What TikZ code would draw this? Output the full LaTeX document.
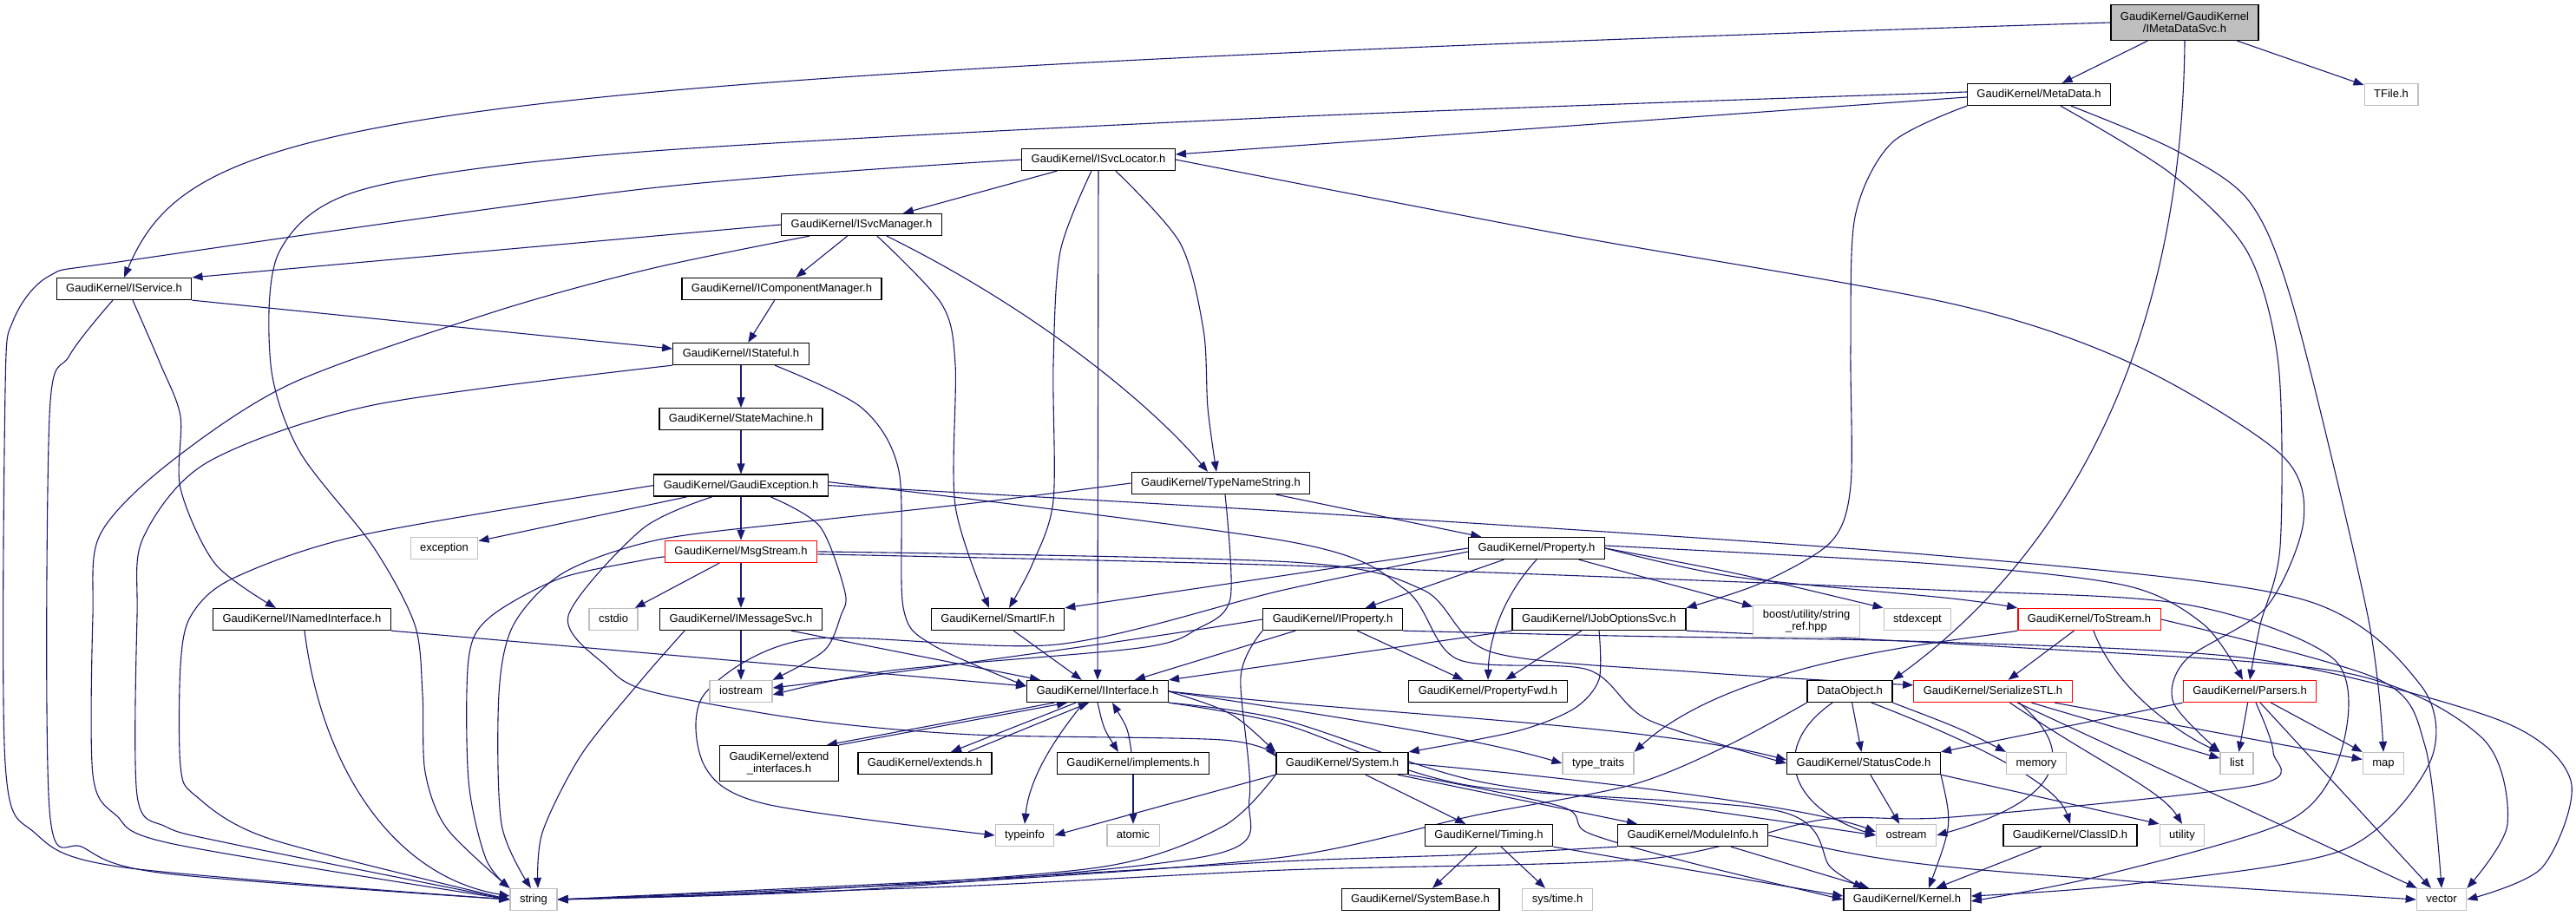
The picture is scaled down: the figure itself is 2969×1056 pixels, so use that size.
\documentclass[tikz,border=0pt]{standalone}
\usepackage{fontspec}
\setmainfont{Liberation Sans}
\usetikzlibrary{arrows.meta,positioning,backgrounds}
\definecolor{incblue}{HTML}{191970}
\definecolor{sysgray}{HTML}{BFBFBF}
\definecolor{cutred}{HTML}{FF0000}

\begin{document}
\begin{tikzpicture}
[x=1pt, y=-1pt, node distance=49pt,
% STYLES
% The header style is used to draw the files' names
header/.style={rectangle, draw=black, line width=1.3pt, fill=white, inner xsep=11pt, inner ysep=3pt, minimum height=25pt, text height=10pt, text depth=3pt, align=center, font=\fontsize{13}{14}\selectfont},
twoline/.style={text height={}, text depth={}, minimum height=41pt},
% system headers get a grey frame, truncated ones a red frame
syshdr/.style={header, draw=sysgray},
cuthdr/.style={header, draw=cutred},
mainhdr/.style={header, fill=sysgray},
% The dep style is used to draw the includes
dep/.style={draw=incblue, line width=1.1pt, -{Triangle[length=12pt, width=9pt]}}]

\useasboundingbox (0,0) rectangle (2969,1056);

% Draw headers
\node [mainhdr, twoline] (meta) at (2518,26) {GaudiKernel/GaudiKernel\\/IMetaDataSvc.h};
\node [header] (metadata) at (2350,109) {GaudiKernel/MetaData.h};
\node [syshdr] (tfile) at (2756,109) {TFile.h};
\node [header] (svcloc) at (1266,184) {GaudiKernel/ISvcLocator.h};
\node [header] (svcmgr) at (993,259) {GaudiKernel/ISvcManager.h};
\node [header] (iservice) at (143,333) {GaudiKernel/IService.h};
\node [header] (compmgr) at (901,333) {GaudiKernel/IComponentManager.h};
\node [header] (istateful) at (854,408) {GaudiKernel/IStateful.h};
\node [header, below=of istateful] (statemach) {GaudiKernel/StateMachine.h};
\node [header, below=50pt of statemach] (gexcept) {GaudiKernel/GaudiException.h};
\node [cuthdr, below=50pt of gexcept] (msgstream) {GaudiKernel/MsgStream.h};
\node [header] (imsgsvc) at (854,714) {GaudiKernel/IMessageSvc.h};
\node [syshdr] (iostream) at (854,797) {iostream};
\node [header] (typename) at (1407,557) {GaudiKernel/TypeNameString.h};
\node [syshdr] (exception) at (512,632) {exception};
\node [syshdr] (cstdio) at (707,714) {cstdio};
\node [header] (named) at (348,714) {GaudiKernel/INamedInterface.h};
\node [header] (smartif) at (1150,714) {GaudiKernel/SmartIF.h};
\node [header] (property) at (1771,632) {GaudiKernel/Property.h};
\node [header] (iproperty) at (1536,714) {GaudiKernel/IProperty.h};
\node [header] (joboptions) at (1843,714) {GaudiKernel/IJobOptionsSvc.h};
\node [syshdr, twoline, minimum height=37pt] (boostref) at (2082,716) {boost/utility/string\\\_ref.hpp};
\node [syshdr] (stdexcept) at (2210,714) {stdexcept};
\node [cuthdr] (tostream) at (2408,714) {GaudiKernel/ToStream.h};
\node [header] (iinterface) at (1265,797) {GaudiKernel/IInterface.h};
\node [header] (propfwd) at (1715,797) {GaudiKernel/PropertyFwd.h};
\node [header] (dataobj) at (2132,797) {DataObject.h};
\node [cuthdr] (serialize) at (2297,797) {GaudiKernel/SerializeSTL.h};
\node [cuthdr] (parsers) at (2593,797) {GaudiKernel/Parsers.h};
\node [header, twoline] (extendif) at (898,880) {GaudiKernel/extend\\\_interfaces.h};
\node [header] (extends) at (1066,880) {GaudiKernel/extends.h};
\node [header] (implements) at (1306,880) {GaudiKernel/implements.h};
\node [header] (system) at (1547,880) {GaudiKernel/System.h};
\node [syshdr] (typetraits) at (1842,880) {type\_traits};
\node [header] (statuscode) at (2148,880) {GaudiKernel/StatusCode.h};
\node [syshdr] (memory) at (2347,880) {memory};
\node [syshdr] (list) at (2578,880) {list};
\node [syshdr] (map) at (2747,880) {map};
\node [syshdr] (typeinfo) at (1181,963) {typeinfo};
\node [syshdr] (atomic) at (1306,963) {atomic};
\node [header] (timing) at (1716,963) {GaudiKernel/Timing.h};
\node [header] (moduleinfo) at (1951,963) {GaudiKernel/ModuleInfo.h};
\node [syshdr] (ostream) at (2197,963) {ostream};
\node [header] (classid) at (2386,963) {GaudiKernel/ClassID.h};
\node [syshdr] (utility) at (2515,963) {utility};
\node [syshdr] (string) at (615,1037) {string};
\node [header] (sysbase) at (1637,1037) {GaudiKernel/SystemBase.h};
\node [syshdr] (systime) at (1795,1037) {sys/time.h};
\node [header] (kernel) at (2198,1037) {GaudiKernel/Kernel.h};
\node [syshdr] (vector) at (2814,1037) {vector};

\begin{scope}[on background layer]
% Draw includes of IMetaDataSvc.h
\draw [dep] (meta.west) .. controls (400,90) and (220,140) .. (iservice.north);
\draw [dep] (meta) -- (metadata);
\draw [dep] (meta) -- (tfile);
\draw [dep] (meta.south) .. controls (2515,400) and (2380,640) .. (dataobj.north east);

% MetaData.h
\draw [dep] ([yshift=-3pt]metadata.west) -- ([yshift=6pt]svcloc.east);
\draw [dep] plot [smooth] coordinates {([yshift=3pt]metadata.west) (1480,135) (740,175) (420,218) (322,290) (312,420) (345,520) (430,630) (478,720) (487,800) (490,890) (515,955) (string.north west)};
\draw [dep] plot [smooth] coordinates {(metadata.south west) (2180,165) (2138,250) (2133,400) (2133,560) (2110,625) (2030,672) (joboptions.north east)};
\draw [dep] plot [smooth] coordinates {([xshift=25pt]metadata.south) (2502,200) (2590,290) (2626,420) (2628,630) (2605,720) (parsers.north)};
\draw [dep] plot [smooth] coordinates {([xshift=37pt]metadata.south) (2507,173) (2593,233) (2645,360) (2729,710) (map.north)};

% ISvcLocator.h
\draw [dep] (svcloc) -- (svcmgr);
\draw [dep] (svcloc) -- (iinterface);
\draw [dep] plot [smooth] coordinates {([xshift=-8pt]svcloc.south) (1222,290) (1214,420) (1214,577) (1190,650) ([xshift=13pt]smartif.north)};
\draw [dep] plot [smooth] coordinates {([xshift=20pt]svcloc.south) (1360,280) (1387,380) (1392,470) ([xshift=-5pt]typename.north)};
\draw [dep] plot [smooth] coordinates {(svcloc.east) (1800,270) (2249,350) (2459,420) (2628,523) (2655,600) (2612,700) (2520,760) (2505,810) (list.north west)};
\draw [dep] plot [smooth] coordinates {(svcloc.west) (749,217) (150,300) (57,318) (15,370) (6,450) (6,880) (40,960) (143,1000) (string.west)};

% ISvcManager.h
\draw [dep] (svcmgr.west) -- (iservice.north east);
\draw [dep] (svcmgr) -- (compmgr);
\draw [dep] plot [smooth] coordinates {([xshift=-60pt]svcmgr.south) (749,310) (568,360) (334,443) (191,537) (115,617) (107,710) (107,893) (134,940) (200,973) (string.west)};
\draw [dep] plot [smooth] coordinates {([xshift=18pt]svcmgr.south) (1085,350) (1101,420) (1101,583) ([xshift=-10pt]smartif.north)};
\draw [dep] ([xshift=29pt]svcmgr.south) .. controls (1200,360) and (1330,470) .. ([xshift=-15pt]typename.north);

% IService.h and IComponentManager.h
\draw [dep] (iservice.south east) -- ([yshift=6pt]istateful.west);
\draw [dep] plot [smooth] coordinates {([xshift=10pt]iservice.south) (185,420) (208,480) (208,563) (248,650) ([xshift=-30pt]named.north)};
\draw [dep] plot [smooth] coordinates {([xshift=-13pt]iservice.south) (80,410) (57,480) (57,933) (96,977) (191,1007) (string.west)};
\draw [dep] (compmgr) -- (istateful);

% IStateful.h down to MsgStream.h
\draw [dep] (istateful) -- (statemach);
\draw [dep] plot [smooth] coordinates {(istateful.south west) (430,467) (239,533) (165,620) (158,710) (158,917) (191,953) (268,973) (string.west)};
\draw [dep] plot [smooth] coordinates {([xshift=39pt]istateful.south) (993,470) (1036,543) (1041,700) (1074,743) ([yshift=6pt]iinterface.west)};
\draw [dep] (statemach) -- (gexcept);
\draw [dep] (gexcept) -- (msgstream);
\draw [dep] (gexcept) -- (exception);
\draw [dep] plot [smooth] coordinates {(gexcept.west) (416,617) (268,667) (220,710) (208,767) (208,883) (225,917) (311,967) (string.west)};
\draw [dep] plot [smooth] coordinates {([xshift=-33pt]gexcept.south) (740,610) (655,710) (698,767) (749,797) (931,830) (1122,847) (1409,853) ([yshift=8pt]system.west)};
\draw [dep] plot [smooth] coordinates {([xshift=34pt]gexcept.south) (945,607) (974,683) (969,710) (950,750) (iostream.north east)};
\draw [dep] plot [smooth] coordinates {([yshift=4pt]gexcept.east) (1489,625) (1620,680) (1680,760) (1830,772) (1900,830) (statuscode.west)};
\draw [dep] plot [smooth] coordinates {(gexcept.east) (1489,590) (2229,640) (2650,690) (2790,790) (2800,880) (2700,980) (2450,1020) ([yshift=4pt]kernel.east)};
\draw [dep] (msgstream) -- (imsgsvc);
\draw [dep] (msgstream) -- (cstdio);
\draw [dep] plot [smooth] coordinates {([yshift=-6pt]msgstream.west) (740,646) (645,667) (564,712) (540,760) (540,900) (560,990) (string.north west)};
\draw [dep] plot [smooth] coordinates {(msgstream.east) (1489,648) (1640,680) (1720,752) (1958,775) ([yshift=-6pt]serialize.north west)};
\draw [dep] plot [smooth] coordinates {([yshift=-3pt]msgstream.east) (1489,652) (2229,680) (2520,697) (2690,760) (2700,860) (2640,945) (2420,1010) ([yshift=-2pt]kernel.east)};

% IMessageSvc.h and INamedInterface.h
\draw [dep] ([xshift=58pt]imsgsvc.south) -- ([xshift=-66pt]iinterface.north);
\draw [dep] (imsgsvc) -- (iostream);
\draw [dep] plot [smooth] coordinates {([xshift=-65pt]imsgsvc.south) (740,783) (670,870) (625,960) ([xshift=5pt]string.north)};
\draw [dep] (named.south east) -- ([yshift=6pt]iinterface.west);
\draw [dep] ([xshift=3pt]named.south) .. controls (370,880) and (450,1010) .. ([yshift=4pt]string.west);

% TypeNameString.h and Property.h
\draw [dep] (typename) -- (property);
\draw [dep] plot [smooth] coordinates {(typename.west) (1122,580) (940,600) (760,622) (650,660) (592,720) (575,800) (578,950) ([xshift=-3pt]string.north)};
\draw [dep] plot [smooth] coordinates {([xshift=5pt]typename.south) (1418,690) (1380,725) (1313,747) (1027,773) ([yshift=-4pt]iostream.east)};
\draw [dep] (property) -- (iproperty);
\draw [dep] (property.south) .. controls (1730,690) and (1716,740) .. (propfwd.north);
\draw [dep] (property.west) -- (smartif.north east);
\draw [dep] plot [smooth] coordinates {([yshift=-4pt]property.west) (1480,680) (1218,743) (931,737) (812,800) (812,883) (883,927) (typeinfo.west)};
\draw [dep] (property) -- (boostref);
\draw [dep] (property.east) .. controls (2000,660) .. (stdexcept.north west);
\draw [dep] plot [smooth] coordinates {(property.east) (2000,665) (2250,690) (tostream.north west)};
\draw [dep] plot [smooth] coordinates {([yshift=3pt]property.east) (2229,650) (2450,675) (2540,720) ([xshift=-8pt]parsers.north)};

% SmartIF.h, IProperty.h and IJobOptionsSvc.h
\draw [dep] (smartif) -- (iinterface);
\draw [dep] (iproperty) -- (iinterface);
\draw [dep] (iproperty) -- (propfwd);
\draw [dep] plot [smooth] coordinates {(iproperty.south west) (1430,780) (1440,920) (1400,985) (1000,1025) (string.east)};
\draw [dep] (iproperty.west) .. controls (1300,740) and (1000,780) .. ([yshift=4pt]iostream.east);
\draw [dep] plot [smooth] coordinates {(iproperty.south east) (1862,733) (2229,740) (2600,760) (2880,830) (2963,900) (2930,1000) (vector.east)};
\draw [dep] (joboptions) -- (propfwd);
\draw [dep] (joboptions.south west) -- (iinterface.north east);
\draw [dep] plot [smooth] coordinates {(joboptions.south) (1843,783) (1814,817) (1748,843) (system.north east)};
\draw [dep] plot [smooth] coordinates {(joboptions.south east) (2300,745) (2700,775) (2860,850) (2890,950) (vector.north east)};

% ToStream.h, SerializeSTL.h and Parsers.h
\draw [dep] (tostream) -- (serialize);
\draw [dep] (tostream) .. controls (2440,800) and (2520,850) .. (list.north west);
\draw [dep] plot [smooth] coordinates {(tostream.east) (2741,783) (2795,860) (vector.north)};
\draw [dep] (tostream.south west) .. controls (2250,740) and (2000,760) .. (typetraits.north east);
\draw [dep] (serialize) -- (list);
\draw [dep] (serialize) -- (map);
\draw [dep] (serialize) -- (vector);
\draw [dep] (serialize) .. controls (2420,880) and (2490,910) .. (utility.north);
\draw [dep] ([xshift=30pt]serialize.south) .. controls (2410,880) and (2350,930) .. (ostream.east);
\draw [dep] (parsers) -- (list);
\draw [dep] (parsers) -- (map);
\draw [dep] (parsers) -- (vector);
\draw [dep] (parsers.south west) -- (statuscode.north east);
\draw [dep] plot [smooth] coordinates {([xshift=7pt]parsers.south) (2620,867) (2600,905) (2250,942) (2100,945) (1900,990) (1480,1003) (1100,1022) (string.east)};

% DataObject.h
\draw [dep] (dataobj) -- (statuscode);
\draw [dep] (dataobj.south east) .. controls (2260,840) .. (memory.north west);
\draw [dep] ([xshift=25pt]dataobj.south) .. controls (2260,850) and (2370,900) .. (classid.north);
\draw [dep] ([xshift=-20pt]dataobj.south) .. controls (2040,860) and (2060,930) .. (ostream.west);
\draw [dep] plot [smooth] coordinates {(dataobj.south west) (1990,860) (1880,905) (1700,940) (1480,988) (1100,1017) (string.east)};

% IInterface.h
\draw [dep] ([xshift=-50pt]iinterface.south) -- ([xshift=55pt]extendif.north);
\draw [dep] (extendif.north east) -- ([xshift=-35pt]iinterface.south);
\draw [dep] ([xshift=-25pt]iinterface.south) -- ([xshift=30pt]extends.north);
\draw [dep] ([xshift=50pt]extends.north) -- ([xshift=-10pt]iinterface.south);
\draw [dep] (iinterface.south) .. controls (1272,840) .. ([xshift=-17pt]implements.north);
\draw [dep] ([xshift=-2pt]implements.north) .. controls (1300,840) .. ([xshift=17pt]iinterface.south);
\draw [dep] ([xshift=-16pt]iinterface.south) .. controls (1200,870) and (1185,910) .. (typeinfo.north);
\draw [dep] (iinterface.east) .. controls (1500,820) and (1700,850) .. (typetraits.west);
\draw [dep] (iinterface.east) .. controls (1420,820) .. (system.north west);
\draw [dep] (iinterface.east) .. controls (1600,825) and (1900,835) .. ([yshift=4pt]statuscode.west);
\draw [dep] plot [smooth] coordinates {(iinterface.south east) (1480,830) (1700,900) (1950,932) (ostream.west)};
\draw [dep] plot [smooth] coordinates {(iinterface.south east) (1480,835) (1690,905) (2050,935) (2110,1000) ([xshift=-50pt]kernel.north)};
\draw [dep] (implements) -- (atomic);

% System.h, Timing.h and ModuleInfo.h
\draw [dep] (system.south west) -- (typeinfo.east);
\draw [dep] (system) -- (timing);
\draw [dep] (system) -- (moduleinfo);
\draw [dep] plot [smooth] coordinates {(system.south east) (1800,930) (1830,960) (1950,995) (kernel.west)};
\draw [dep] plot [smooth] coordinates {(system.south west) (1409,953) (1266,1000) (900,1028) (string.east)};
\draw [dep] (system.east) .. controls (1900,905) and (2100,935) .. ([yshift=4pt]ostream.west);
\draw [dep] (timing) -- (sysbase);
\draw [dep] (timing) -- (systime);
\draw [dep] (timing.south east) -- ([yshift=4pt]kernel.west);
\draw [dep] (moduleinfo) -- (kernel);
\draw [dep] plot [smooth] coordinates {(moduleinfo.south west) (1700,985) (1480,993) (1100,1015) (string.east)};
\draw [dep] (moduleinfo.east) .. controls (2200,1000) .. (vector.west);

% StatusCode.h and ClassID.h
\draw [dep] (statuscode) -- (ostream);
\draw [dep] (statuscode.south east) .. controls (2250,950) .. ([xshift=25pt]kernel.north);
\draw [dep] (statuscode.south east) -- (utility.north west);
\draw [dep] (classid) -- (kernel);
\end{scope}

\end{tikzpicture}
\end{document}
